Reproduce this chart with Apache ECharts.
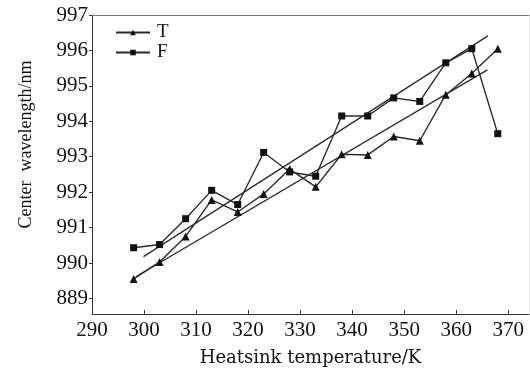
<!DOCTYPE html>
<html><head><meta charset="utf-8">
<script src="https://cdn.jsdelivr.net/npm/echarts@6/dist/echarts.min.js"></script>
<style>html,body{margin:0;padding:0;background:#fff}#c{width:530px;height:372px}</style>
</head><body><div id="c"></div>
<script>
const temps = [298, 303, 308, 313, 318, 323, 328, 333, 338, 343, 348, 353, 358, 363, 368];
const seriesT = [989.55, 990.03, 990.75, 991.78, 991.44, 991.95, 992.65, 992.15, 993.07, 993.05, 993.57, 993.45, 994.75, 995.35, 996.05];
const seriesF = [990.43, 990.52, 991.25, 992.05, 991.65, 993.12, 992.57, 992.45, 994.15, 994.15, 994.66, 994.56, 995.65, 996.05, 993.65];
const fitT = [[298.5, 989.62], [366, 995.45]];
const fitF = [[299.9, 990.18], [366.1, 996.41]];
const yTickValues = [989, 990, 991, 992, 993, 994, 995, 996, 997];
const yTickLabels = ['889', '990', '991', '992', '993', '994', '995', '996', '997'];
const xTickValues = [290, 300, 310, 320, 330, 340, 350, 360, 370];
const xTickLabels = ['290', '300', '310', '320', '330', '340', '350', '360', '370'];

const font = 'Liberation Serif';
const ink = '#111';
const chart = echarts.init(document.getElementById('c'), null, {renderer: 'canvas'});
const pair = (xs, ys) => xs.map((x, i) => [x, ys[i]]);
const frameAxis = (color) => ({axisLine: {show: true, lineStyle: {color, width: 1}}, axisTick: {show: false},
  axisLabel: {show: false}, splitLine: {show: false}});
chart.setOption({
  animation: false,
  backgroundColor: '#fff',
  grid: {left: 92, top: 15, right: 1, bottom: 58, show: false, containLabel: false, outerBoundsMode: 'none'},
  legend: {
    data: ['T', 'F'], orient: 'vertical', left: 110, top: 18, itemWidth: 34, itemHeight: 7, itemGap: 1,
    textStyle: {fontFamily: font, fontSize: 19, color: ink, padding: [0, 0, 0, 2]}
  },
  xAxis: [{
    type: 'value', min: 290, max: 374, position: 'bottom',
    name: 'Heatsink temperature/K', nameLocation: 'middle', nameGap: 35,
    nameTextStyle: {fontFamily: 'DejaVu Serif', fontSize: 18, color: ink},
    axisLine: {lineStyle: {color: '#333', width: 1}},
    axisTick: {inside: true, length: 4, customValues: xTickValues, lineStyle: {color: '#333'}},
    axisLabel: {customValues: xTickValues, fontFamily: font, fontSize: 21, color: ink, margin: 6,
      formatter: v => xTickLabels[xTickValues.indexOf(v)] ?? ''},
    splitLine: {show: false}
  }, Object.assign({type: 'value', min: 290, max: 374, position: 'top'}, frameAxis('#777'))],
  yAxis: [{
    type: 'value', min: 988.56, max: 997, position: 'left',
    name: 'Center  wavelength/nm', nameLocation: 'middle', nameGap: 57, nameRotate: 90,
    nameTextStyle: {fontFamily: font, fontSize: 18, color: ink, padding: [0, 0, 0, 40]},
    axisLine: {show: true, lineStyle: {color: '#333', width: 1}},
    axisTick: {show: true, inside: false, length: 3, customValues: yTickValues, lineStyle: {color: '#333'}},
    axisLabel: {customValues: yTickValues, fontFamily: font, fontSize: 21, color: ink, margin: 4,
      formatter: v => yTickLabels[yTickValues.indexOf(v)] ?? ''},
    splitLine: {show: false}
  }, Object.assign({type: 'value', min: 988.56, max: 997, position: 'right'}, frameAxis('#e2e2e2'))],
  series: [
    {name: 'T', type: 'line', data: pair(temps, seriesT), symbol: 'triangle', symbolSize: 8,
      lineStyle: {color: '#2a2a2a', width: 1.4}, itemStyle: {color: '#111'}},
    {name: 'F', type: 'line', data: pair(temps, seriesF), symbol: 'rect', symbolSize: 7,
      lineStyle: {color: '#2a2a2a', width: 1.4}, itemStyle: {color: '#111'}},
    {name: 'fitT', type: 'line', data: fitT, symbol: 'none', lineStyle: {color: '#2a2a2a', width: 1.3}},
    {name: 'fitF', type: 'line', data: fitF, symbol: 'none', lineStyle: {color: '#2a2a2a', width: 1.3}}
  ]
});
</script></body></html>
